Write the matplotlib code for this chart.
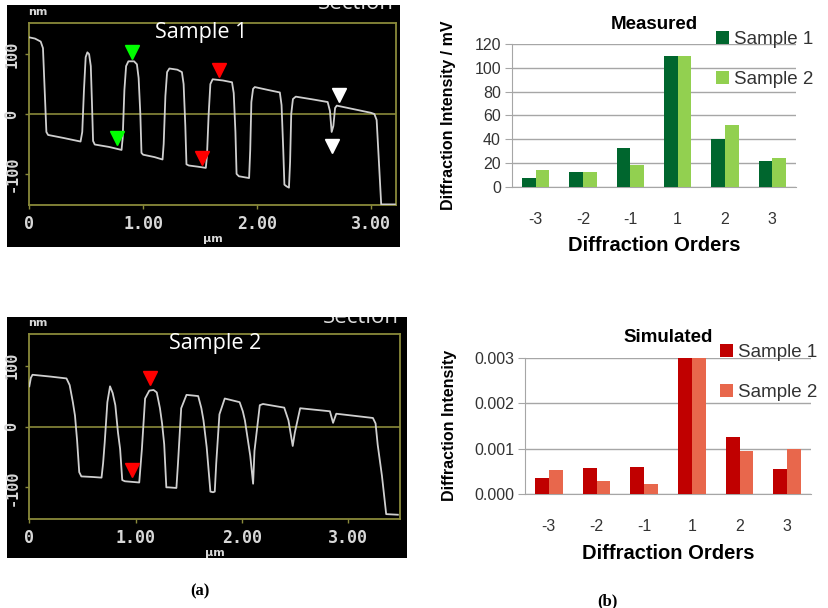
import matplotlib
matplotlib.use('Agg')
import matplotlib.pyplot as plt
import numpy as np

plt.rcParams['font.family'] = ['Liberation Sans', 'DejaVu Sans']

# AFM section profiles (x in um, height in nm)
s1_x = [0.00, 0.05, 0.10, 0.12, 0.135, 0.15, 0.165, 0.30, 0.45, 0.465, 0.48, 0.495,
        0.51, 0.525, 0.54, 0.55, 0.56, 0.575, 0.70, 0.81, 0.82, 0.835, 0.85, 0.87,
        0.92, 0.945, 0.96, 0.975, 0.985, 1.00, 1.10, 1.17, 1.18, 1.195, 1.21, 1.23,
        1.30, 1.34, 1.355, 1.37, 1.38, 1.40, 1.48, 1.55, 1.56, 1.575, 1.59, 1.61,
        1.70, 1.78, 1.795, 1.81, 1.82, 1.84, 1.93, 1.94, 1.95, 1.965, 1.98, 2.10,
        2.20, 2.215, 2.23, 2.24, 2.26, 2.28, 2.29, 2.30, 2.315, 2.34, 2.50, 2.62,
        2.64, 2.655, 2.67, 2.685, 2.70, 2.85, 3.00, 3.03, 3.05, 3.07, 3.09, 3.21]
s1_y = [128, 126, 121, 110, 40, -30, -35, -40, -46, -30, 40, 95,
        103, 100, 80, 20, -45, -51, -55, -60, -40, 40, 80, 88,
        88, 83, 60, 0, -65, -68, -72, -76, -50, 30, 70, 76,
        74, 70, 50, -20, -84, -86, -88, -90, -70, 0, 50, 58,
        56, 53, 35, -30, -100, -104, -107, -60, 20, 42, 45, 40,
        36, 15, -60, -118, -121, -123, -80, 0, 25, 29, 24, 20,
        5, -30, -20, 10, 14, 8, 2, 0, -10, -80, -151, -151]

s2_x = [0.00, 0.015, 0.03, 0.20, 0.35, 0.38, 0.41, 0.43, 0.45, 0.47, 0.49, 0.60,
        0.68, 0.695, 0.71, 0.735, 0.76, 0.785, 0.81, 0.835, 0.855, 0.875, 0.90, 1.035,
        1.06, 1.09, 1.13, 1.17, 1.20, 1.23, 1.25, 1.27, 1.29, 1.31, 1.385, 1.40,
        1.43, 1.48, 1.59, 1.62, 1.64, 1.67, 1.705, 1.73, 1.746, 1.76, 1.79, 1.84,
        1.98, 2.01, 2.03, 2.08, 2.107, 2.12, 2.17, 2.20, 2.40, 2.44, 2.48, 2.50,
        2.55, 2.83, 2.86, 2.89, 3.235, 3.26, 3.28, 3.32, 3.36, 3.47]
s2_y = [66, 80, 85, 82, 79, 68, 40, 18, -23, -75, -82, -83,
        -84, -60, -26, 40, 66, 55, 35, -10, -37, -88, -90, -92,
        -37, 46, 59, 60, 56, 30, 5, -29, -100, -100, -101, -60,
        30, 52, 50, 30, 10, -34, -107, -108, -107, -60, 20, 46,
        40, 25, 10, -48, -94, -40, 35, 37, 31, 10, -32, -10,
        30, 25, 6, 21, 14, 5, -30, -81, -144, -145]

# cursor markers (x, y, colour)
s1_marks_x = [0.906, 0.766, 1.667, 1.52, 2.72, 2.66]
s1_marks_y = [104, -40, 74, -73, 32, -54]
s1_marks_c = ['#00ff00', '#00ff00', '#ff0000', '#ff0000', 'white', 'white']
s2_marks_x = [1.135, 0.97]
s2_marks_y = [79, -72]
s2_marks_c = ['#ff0000', '#ff0000']

# diffraction data
orders = ['-3', '-2', '-1', '1', '2', '3']
meas_s1 = [7, 12, 33, 110, 40, 22]
meas_s2 = [14, 12, 18, 110, 52, 24]
sim_s1 = [0.00035, 0.00057, 0.00060, 0.00300, 0.00125, 0.00054]
sim_s2 = [0.00052, 0.00029, 0.00021, 0.00300, 0.00094, 0.00099]

W, H = 829, 608
OLIVE = '#8a8a3a'
TICKC = '#d8d8d8'


def px_rect(x0, y0, x1, y1):
    """pixel box (top-left origin) -> figure fraction rect"""
    return [x0 / W, 1 - y1 / H, (x1 - x0) / W, (y1 - y0) / H]


fig = plt.figure(figsize=(W / 100, H / 100), dpi=100)
fig.patch.set_facecolor('white')


def afm_panel(bg_box, ax_box, xs, ys, mx, my, mc, xmax, title, title_x, sec_y):
    bg = fig.add_axes(px_rect(*bg_box))
    bg.set_facecolor('black')
    bg.set_xticks([])
    bg.set_yticks([])
    for sp in bg.spines.values():
        sp.set_visible(False)
    bg.set_xlim(0, 1)
    bg.set_ylim(0, 1)
    bg.text(0.79, sec_y, 'Section', color='#e0e0e0', fontsize=16,
            family='Open Sans', ha='left', va='baseline', clip_on=True)

    ax = fig.add_axes(px_rect(*ax_box))
    ax.set_facecolor('black')
    ax.plot(xs, ys, color='#cfcfcf', lw=1.3, zorder=3)
    ax.axhline(0, color=OLIVE, lw=1.2, zorder=2)
    for x, y, c in zip(mx, my, mc):
        ax.plot(x, y, marker='v', ms=9.5, color=c, mec=c, zorder=4)
    ax.set_xlim(0, xmax)
    ax.set_ylim(-152, 152)
    for sp in ax.spines.values():
        sp.set_color(OLIVE)
        sp.set_linewidth(1.3)
    ax.set_xticks([0, 1, 2, 3])
    ax.set_xticklabels(['0', '1.00', '2.00', '3.00'])
    ax.set_yticks([-100, 0, 100])
    ax.set_yticklabels(['-100', '0', '100'], rotation=90, va='center')
    ax.tick_params(colors=OLIVE, length=3, width=1, direction='out')
    ax.tick_params(axis='x', labelcolor=TICKC, labelsize=12, pad=4)
    ax.tick_params(axis='y', labelcolor=TICKC, labelsize=11, pad=4)
    for lab in ax.get_xticklabels() + ax.get_yticklabels():
        lab.set_family('DejaVu Sans Mono')
        lab.set_fontweight('bold')
    ax.set_xlabel('µm', color=TICKC, fontsize=8, fontweight='bold',
                  family='DejaVu Sans', labelpad=1)
    ax.text(-0.003, 1.06, 'nm', transform=ax.transAxes, color=TICKC,
            fontsize=8, fontweight='bold', family='DejaVu Sans', va='center')
    ax.text(title_x, 0.95, title, transform=ax.transAxes, color='white',
            fontsize=15.5, family='Open Sans', ha='center', va='center',
            zorder=5)
    return ax


afm_panel((7, 5, 400, 247), (29.3, 23, 396, 205), s1_x, s1_y,
          s1_marks_x, s1_marks_y, s1_marks_c, 3.22, 'Sample 1', 0.47, 0.983)
afm_panel((7, 317, 407, 558), (29.3, 334, 400, 519), s2_x, s2_y,
          s2_marks_x, s2_marks_y, s2_marks_c, 3.49, 'Sample 2', 0.5, 0.976)


def bar_panel(ax_box, v1, v2, c1, c2, title, ylabel, yticks, ylabels, ytop,
              leg_xy, ylpad):
    ax = fig.add_axes(px_rect(*ax_box))
    x = np.arange(len(orders))
    w = 0.29
    ax.bar(x - w / 2, v1, w, color=c1, label='Sample 1', zorder=3)
    ax.bar(x + w / 2, v2, w, color=c2, label='Sample 2', zorder=3)
    ax.set_xlim(-0.5, len(orders) - 0.5)
    ax.set_ylim(0, ytop)
    ax.set_xticks(x)
    ax.set_xticklabels(orders)
    ax.set_yticks(yticks)
    ax.set_yticklabels(ylabels)
    ax.yaxis.grid(True, color='#a6a6a6', lw=1)
    ax.set_axisbelow(True)
    for side in ('top', 'right'):
        ax.spines[side].set_visible(False)
    for side in ('left', 'bottom'):
        ax.spines[side].set_color('#a6a6a6')
    ax.tick_params(axis='x', length=0, pad=18, labelsize=11.5,
                   labelcolor='#333333')
    ax.tick_params(axis='y', length=5, color='#a6a6a6', pad=3,
                   labelsize=11.5, labelcolor='#333333')
    ax.set_title(title, fontsize=13.5, fontweight='bold', pad=11)
    ax.set_xlabel('Diffraction Orders', fontsize=14.5, fontweight='bold',
                  labelpad=7)
    ax.set_ylabel(ylabel, fontsize=11.5, fontweight='bold', labelpad=ylpad)
    ax.legend(loc='upper left', bbox_to_anchor=leg_xy,
              bbox_transform=fig.transFigure, frameon=False, fontsize=13.5,
              handlelength=0.7, handleheight=0.7, handletextpad=0.25,
              labelspacing=1.2, borderpad=0, borderaxespad=0,
              labelcolor='#333333')
    return ax


bar_panel((512, 44.3, 796, 186.7), meas_s1, meas_s2, '#00662e', '#92d050',
          'Measured', 'Diffraction Intensity / mV',
          [0, 20, 40, 60, 80, 100, 120],
          ['0', '20', '40', '60', '80', '100', '120'], 120,
          (716 / W, 1 - 31 / H), 13)
bar_panel((525, 357.7, 811, 494), sim_s1, sim_s2, '#c00000', '#e8674c',
          'Simulated', 'Diffraction Intensity',
          [0, 0.001, 0.002, 0.003],
          ['0.000', '0.001', '0.002', '0.003'], 0.003,
          (720 / W, 1 - 344 / H), 12)

fig.text(200 / W, 1 - 591 / H, '(a)', family='Liberation Serif',
         fontweight='bold', fontsize=12, ha='center', va='center')
fig.text(607 / W, 1 - 601 / H, '(b)', family='Liberation Serif',
         fontweight='bold', fontsize=12, ha='center', va='center')

fig.savefig('out.png', dpi=100, facecolor='white')
